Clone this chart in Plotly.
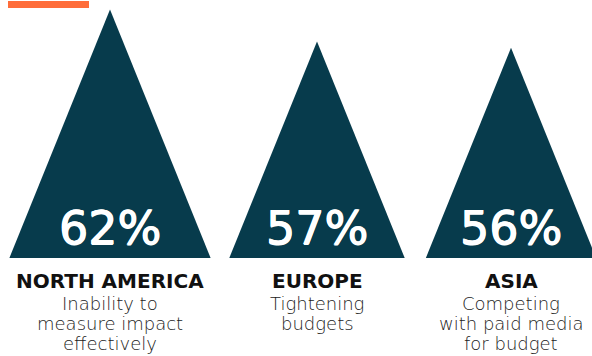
import plotly.graph_objects as go

# Survey results: top challenge per region
regions = ["NORTH AMERICA", "EUROPE", "ASIA"]
shares = [62, 57, 56]
reasons = [
    ["Inability to", "measure impact", "effectively"],
    ["Tightening", "budgets"],
    ["Competing", "with paid media", "for budget"],
]

W, H = 592, 356
PEAK_COLOR = "#073B4C"
ACCENT = "#FF6D3A"
FONT = "DejaVu Sans"

# vertical scale: value axis baseline and pixels per percentage point
BASE_VALUE = 23.0
BASE_PX = 258
PX_PER_PT = 6.37
Y_TOP = BASE_VALUE + BASE_PX / PX_PER_PT
Y_BOT = BASE_VALUE - (H - BASE_PX) / PX_PER_PT

centers = [110, 317, 511]
SLOPE = 0.405  # half-width of each peak relative to its height

# slight glyph thickening for the big percentage figures
PCT_WEIGHT = "0.6px 0 0 #ffffff, -0.6px 0 0 #ffffff, 0 0.5px 0 #ffffff"


def paper_y(py):
    return 1 - py / H


fig = go.Figure()
annotations = []
for cx, region, share, lines in zip(centers, regions, shares, reasons):
    half = SLOPE * (share - BASE_VALUE) * PX_PER_PT
    fig.add_trace(go.Scatter(
        x=[cx - half, cx, cx + half, cx - half],
        y=[BASE_VALUE, share, BASE_VALUE, BASE_VALUE],
        mode="lines", fill="toself", fillcolor=PEAK_COLOR,
        line=dict(width=0, color=PEAK_COLOR), hoverinfo="skip",
        showlegend=False,
    ))
    annotations.append(dict(
        x=cx, y=paper_y(228), xref="x", yref="paper", text=f"{share}%",
        showarrow=False, xanchor="center", yanchor="middle",
        font=dict(family=FONT, size=46, color="white", shadow=PCT_WEIGHT),
    ))
    annotations.append(dict(
        x=cx, y=paper_y(281), xref="x", yref="paper", text=region,
        showarrow=False, xanchor="center", yanchor="middle",
        font=dict(family=FONT, size=20, color="#111111", weight=700),
    ))
    for k, line in enumerate(lines):
        annotations.append(dict(
            x=cx, y=paper_y(303 + 20 * k), xref="x", yref="paper", text=line,
            showarrow=False, xanchor="center", yanchor="middle",
            font=dict(family=FONT, size=18, color="#222222", weight=200),
        ))

fig.update_layout(
    width=W, height=H, autosize=False,
    margin=dict(l=0, r=0, t=0, b=0),
    paper_bgcolor="white", plot_bgcolor="white",
    xaxis=dict(range=[0, W], visible=False, fixedrange=True),
    yaxis=dict(range=[Y_BOT, Y_TOP], visible=False, fixedrange=True),
    annotations=annotations,
    shapes=[dict(
        type="rect", xref="paper", yref="paper",
        x0=8 / W, x1=89 / W, y0=paper_y(8), y1=paper_y(1),
        fillcolor=ACCENT, line=dict(width=0),
    )],
    showlegend=False,
)

fig.write_html("out.html", config={"displayModeBar": False})
